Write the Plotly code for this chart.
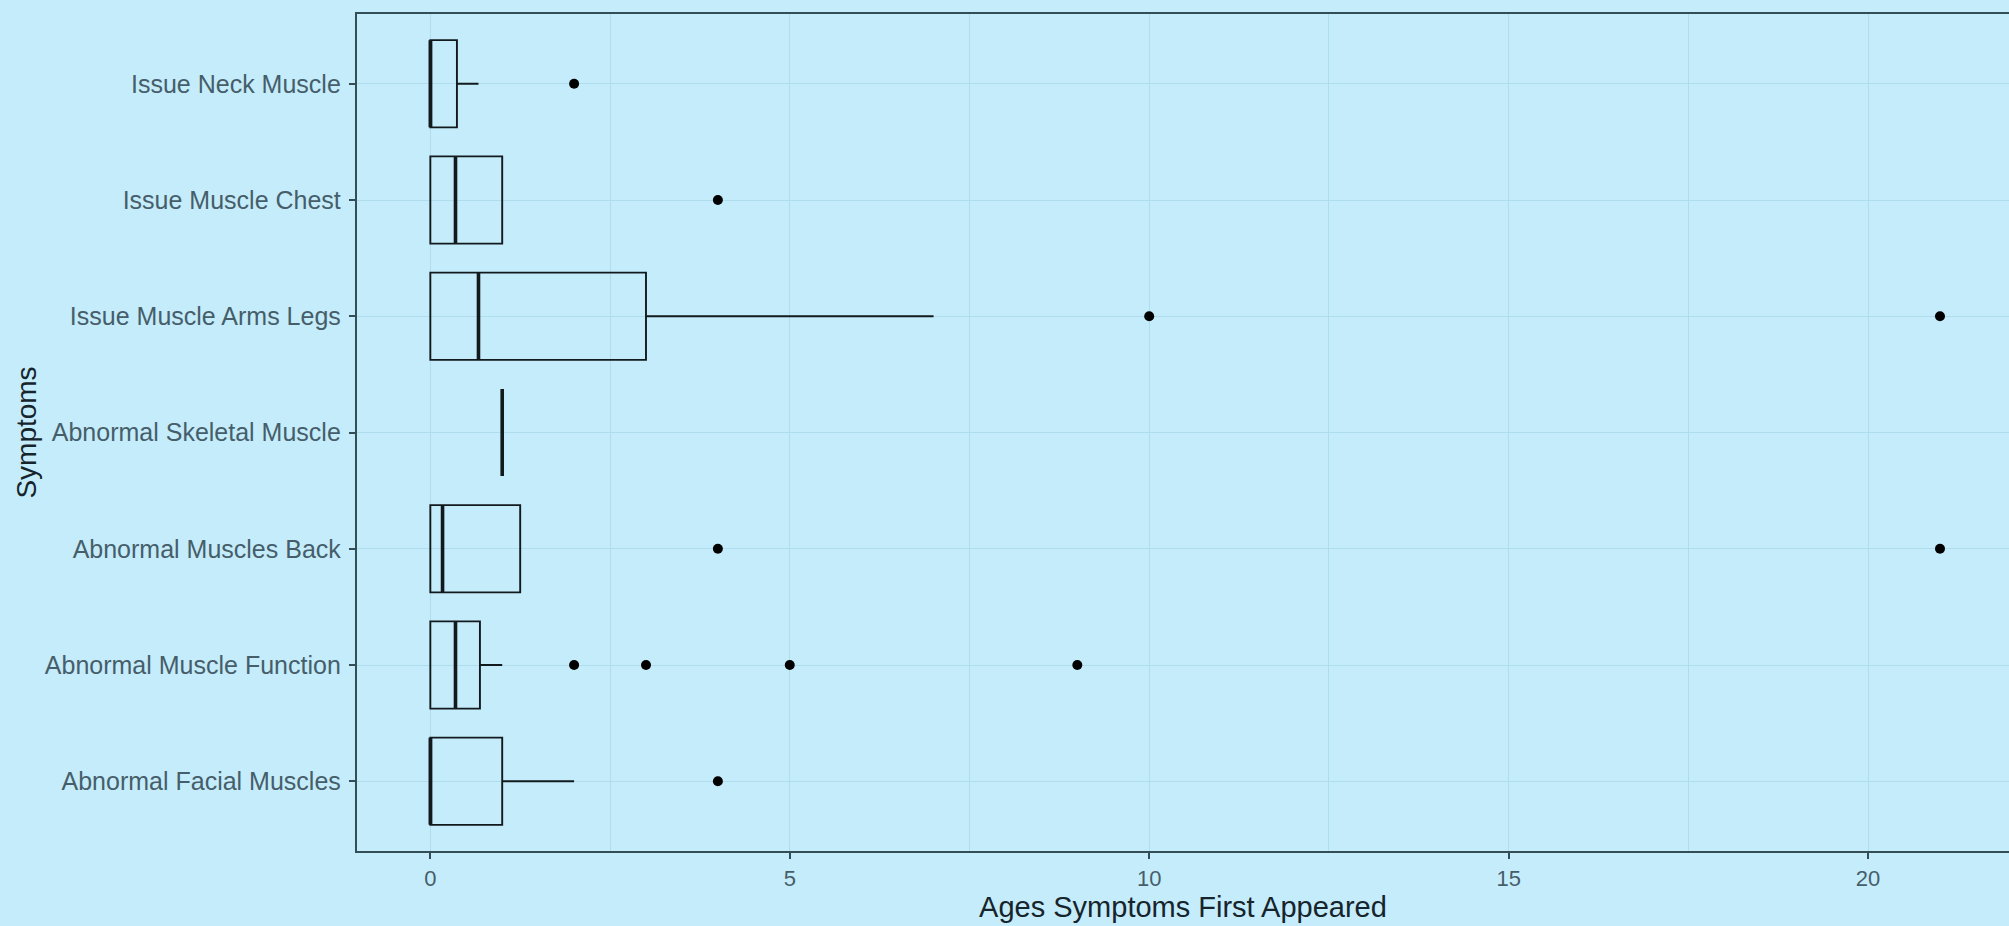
import plotly.graph_objects as go

# ---- data ----
categories = [
    "Abnormal Facial Muscles",
    "Abnormal Muscle Function",
    "Abnormal Muscles Back",
    "Abnormal Skeletal Muscle",
    "Issue Muscle Arms Legs",
    "Issue Muscle Chest",
    "Issue Neck Muscle",
]
q1 = [0, 0, 0, 1, 0, 0, 0]
median = [0, 0.35, 0.17, 1, 0.67, 0.35, 0]
q3 = [1, 0.69, 1.25, 1, 3, 1, 0.37]
lower_fence = [0, 0, 0, 1, 0, 0, 0]
upper_fence = [2, 1, 1.25, 1, 7, 1, 0.67]

outliers = {
    "Abnormal Facial Muscles": [4],
    "Abnormal Muscle Function": [2, 3, 5, 9],
    "Abnormal Muscles Back": [4, 21],
    "Abnormal Skeletal Muscle": [],
    "Issue Muscle Arms Legs": [10, 21],
    "Issue Muscle Chest": [4],
    "Issue Neck Muscle": [2],
}

x_ticks = [0, 5, 10, 15, 20]

# ---- styling ----
BG = "rgb(197,236,251)"
GRID = "rgb(176,221,237)"
AXIS = "rgb(52,78,88)"
TICKTXT = "rgb(70,94,106)"
TITLETXT = "rgb(22,36,44)"
BOXLINE = "rgb(18,26,30)"
FONT = "Liberation Sans, Arial, sans-serif"

fig = go.Figure()

# main boxes
fig.add_trace(go.Box(
    y=categories, q1=q1, median=median, q3=q3,
    lowerfence=lower_fence, upperfence=upper_fence,
    orientation="h", width=0.75, whiskerwidth=0,
    boxpoints=False,
    fillcolor="rgba(0,0,0,0)",
    line=dict(color=BOXLINE, width=1.9),
    showlegend=False, hoverinfo="skip",
))

# thicker median line (ggplot style)
fig.add_trace(go.Box(
    y=categories, q1=median, median=median, q3=median,
    lowerfence=median, upperfence=median,
    orientation="h", width=0.75, whiskerwidth=0,
    boxpoints=False,
    fillcolor="rgba(0,0,0,0)",
    line=dict(color=BOXLINE, width=3.6),
    showlegend=False, hoverinfo="skip",
))

# outliers
ox, oy = [], []
for c in categories:
    for v in outliers[c]:
        ox.append(v)
        oy.append(c)
fig.add_trace(go.Scatter(
    x=ox, y=oy, mode="markers",
    marker=dict(color="black", size=10),
    showlegend=False, hoverinfo="skip",
))

fig.update_layout(
    width=2009, height=926,
    margin=dict(l=357, r=0, t=14, b=75, autoexpand=False),
    paper_bgcolor=BG, plot_bgcolor=BG,
    boxmode="overlay",
    font=dict(family=FONT, color=TICKTXT, size=24),
)

fig.update_xaxes(
    range=[-1.02, 21.96],
    tickvals=x_ticks, ticktext=[str(t) for t in x_ticks],
    showgrid=True, gridcolor=GRID, gridwidth=1.3,
    minor=dict(tickvals=[2.5, 7.5, 12.5, 17.5], showgrid=True, gridcolor=GRID, gridwidth=1.1, ticks=""),
    showline=True, linecolor=AXIS, linewidth=2.4, mirror=True,
    ticks="outside", ticklen=6, tickwidth=1.6, tickcolor=AXIS,
    tickfont=dict(size=22, color=TICKTXT),
    zeroline=False,
    title=dict(text="Ages Symptoms First Appeared", font=dict(size=29, color=TITLETXT), standoff=1),
)

fig.update_yaxes(
    type="category", categoryorder="array", categoryarray=categories,
    range=[-0.6, 6.6],
    showgrid=True, gridcolor=GRID, gridwidth=1.3,
    showline=True, linecolor=AXIS, linewidth=2.4, mirror=False,
    ticks="outside", ticklen=6, tickwidth=1.6, tickcolor=AXIS,
    tickfont=dict(size=25, color=TICKTXT),
    ticklabelstandoff=3,
    zeroline=False,
    title=dict(text="Symptoms", font=dict(size=28, color=TITLETXT), standoff=0),
)

fig.write_html(
    "out.html",
    config={"displayModeBar": False},
    post_script="document.body.style.margin='0';document.body.style.padding='0';document.body.style.background='" + BG + "';",
)
